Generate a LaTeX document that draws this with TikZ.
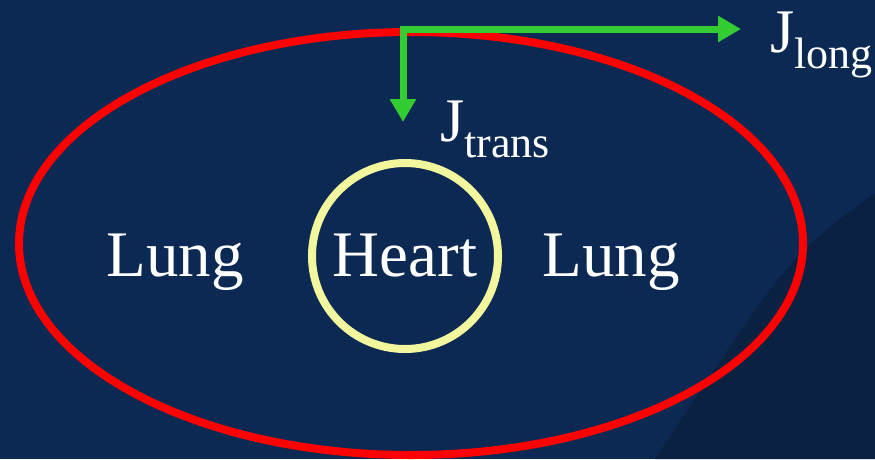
\documentclass[tikz,border=0pt]{standalone}
\usepackage{fontspec}
\setmainfont{Liberation Serif}
\usepackage{xcolor}
\usepackage{tikz}
\usetikzlibrary{arrows.meta, positioning, shapes.geometric}
\definecolor{SlideBlue}{HTML}{0B2952}
\definecolor{SlideShade}{HTML}{0A2141}
\definecolor{ChestRed}{HTML}{FF0000}
\definecolor{HeartYellow}{HTML}{F2F79E}
\definecolor{FluxGreen}{HTML}{33CC33}
\newcommand{\fluxsub}[1]{\raisebox{-16pt}{\fontsize{44}{48}\selectfont #1}}

\begin{document}
\begin{tikzpicture}[
    x=1pt, y=-1pt,
    organ/.style={font=\fontsize{65}{70}\selectfont, text=white},
    chest/.style={ellipse, draw=ChestRed, line width=8pt, inner sep=0pt},
    heartring/.style={circle, draw=HeartYellow, line width=8pt, inner sep=0pt},
    flux/.style={draw=FluxGreen, line width=7pt, -{Triangle[length=23pt, width=25pt]}},
    fluxlabel/.style={font=\fontsize{62}{66}\selectfont, text=white, anchor=base west, inner sep=0pt}
]
% --- Background ---
\fill[SlideBlue] (0,0) rectangle (875,459);
\fill[SlideShade] (875,193) .. controls (790,255) .. (655,459) -- (875,459) -- cycle;
\useasboundingbox (0,0) rectangle (875,459);

% --- Chest and heart ---
\node[chest, minimum width=784pt, minimum height=423pt] (thorax) at (411,243.5) {};
\node[heartring, organ, minimum size=186pt] (heart) at (405,256) {Heart};
\node[organ, anchor=base] (lungL) at (175,276) {Lung};
\node[organ, anchor=base] (lungR) at (611,276) {Lung};

% --- Current directions ---
\coordinate (origin) at (403,29);
\coordinate (longtip) at (741,29);
\coordinate (transtip) at (403,122);
\draw[flux] ([xshift=-3.5pt]origin) -- (longtip);
\draw[flux] ([yshift=3.5pt]origin) -- (transtip);
\node[fluxlabel] (jlong) at (770,52) {J\fluxsub{long}};
\node[fluxlabel] (jtrans) at (440,141) {J\fluxsub{trans}};
\end{tikzpicture}
\end{document}
